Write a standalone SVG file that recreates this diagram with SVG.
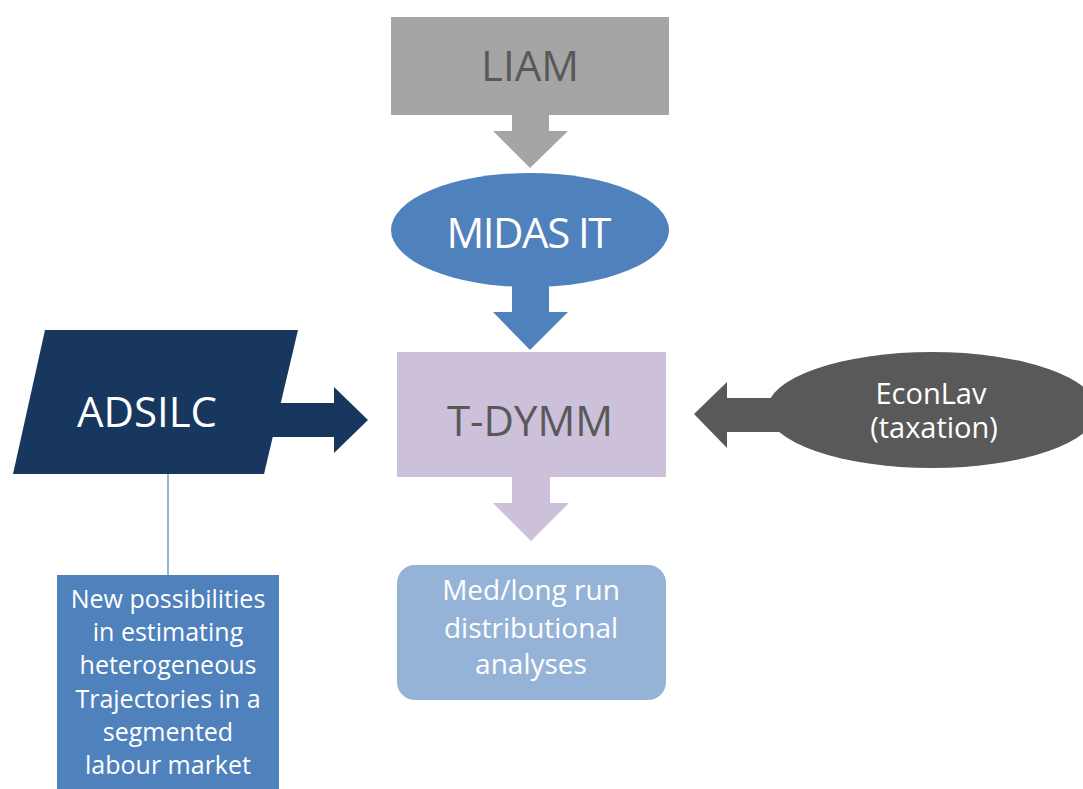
<svg xmlns="http://www.w3.org/2000/svg" width="1083" height="789" viewBox="0 0 1083 789">
<style>
text{font-family:"Open Sans","Liberation Sans",sans-serif;text-anchor:middle}
.big{font-size:42px}
.w{fill:#ffffff}
.g{fill:#595959}
.box{font-size:25px}
.med{font-size:28px}
</style>
<rect width="1083" height="789" fill="#ffffff"/>
<g id="connectors">
<path d="M512,115 H549 V131 H568 L530,168 L493,131 H512 Z" fill="#a5a5a5"/>
<path d="M512,285 H549 V312 H568 L530,350 L493,312 H512 Z" fill="#4f81bd"/>
<path d="M512,477 H550 V503 H569 L531,541 L493,503 H512 Z" fill="#ccc0da"/>
<path d="M270,403 H334 V387 L368,420 L334,453 V437 H270 Z" fill="#17375e"/>
<path d="M800,398 H727 V382 L694,414 L727,448 V432 H800 Z" fill="#595959"/>
<line x1="168" y1="474" x2="168" y2="575" stroke="#4f81bd" stroke-width="1.2"/>
</g>
<g id="liam">
<rect x="391" y="17" width="278" height="98" fill="#a5a5a5"/>
<text class="big g" x="530" y="81">LIAM</text>
</g>
<g id="midas">
<ellipse cx="530" cy="230" rx="139" ry="57" fill="#4f81bd"/>
<text class="big w" x="529" y="248" textLength="165" lengthAdjust="spacing">MIDAS IT</text>
</g>
<g id="tdymm">
<rect x="397" y="352" width="269" height="125" fill="#ccc0da"/>
<text class="big g" x="530" y="436">T-DYMM</text>
</g>
<g id="adsilc">
<polygon points="45,330 298,330 264,474 13,474" fill="#17375e"/>
<text class="big w" x="147" y="427">ADSILC</text>
</g>
<g id="econlav">
<ellipse cx="932" cy="410" rx="165" ry="58" fill="#595959"/>
<text class="w" font-size="29"><tspan x="931" y="404">EconLav</tspan><tspan x="934" y="438">(taxation)</tspan></text>
</g>
<g id="medlong">
<rect x="397" y="565" width="269" height="135" rx="18" fill="#95b3d7"/>
<text class="w med" x="531" y="600">Med/long run</text>
<text class="w med" x="531" y="638">distributional</text>
<text class="w med" x="531" y="674">analyses</text>
</g>
<g id="possibilities">
<rect x="57" y="575" width="222" height="214" fill="#4f81bd"/>
<text class="w box" x="168" y="608">New possibilities</text>
<text class="w box" x="168" y="641">in estimating</text>
<text class="w box" x="168" y="674">heterogeneous</text>
<text class="w box" x="168" y="708">Trajectories in a</text>
<text class="w box" x="168" y="741">segmented</text>
<text class="w box" x="168" y="774">labour market</text>
</g>
</svg>
